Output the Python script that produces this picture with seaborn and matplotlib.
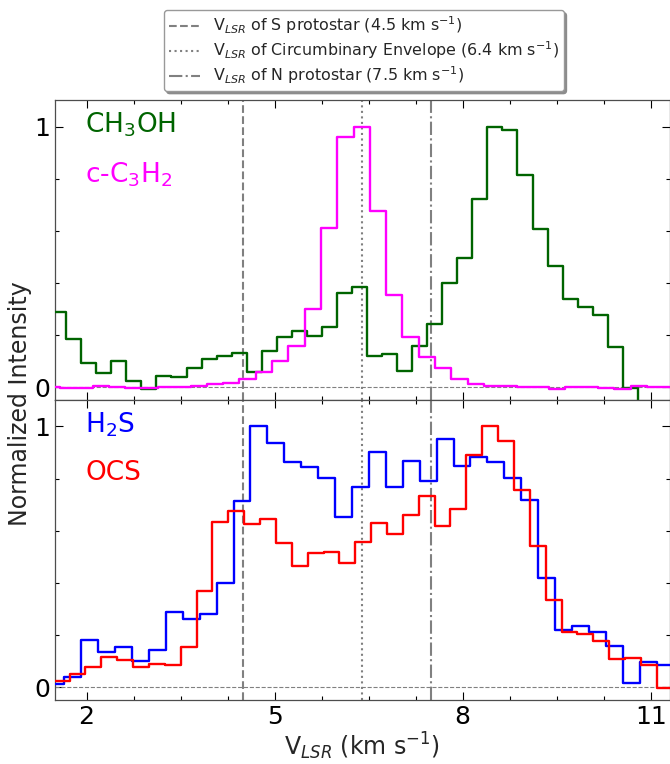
import numpy as np
import pandas as pd
import matplotlib
matplotlib.use("Agg")
import matplotlib.pyplot as plt
import seaborn as sns
from matplotlib.ticker import MultipleLocator, FixedLocator

sns.set_style("ticks")
plt.rcParams['font.family'] = ['DejaVu Sans']
plt.rcParams['mathtext.fontset'] = 'dejavusans'

# ---------------- data (channel centre velocities, km/s; normalized intensities) -------------
ch3oh_v = [1.314, 1.554, 1.794, 2.034, 2.274, 2.514, 2.754, 2.994, 3.234, 3.474, 3.714, 3.954,
           4.194, 4.434, 4.674, 4.914, 5.154, 5.394, 5.634, 5.874, 6.114, 6.354, 6.594, 6.834,
           7.074, 7.314, 7.554, 7.794, 8.034, 8.274, 8.514, 8.754, 8.994, 9.234, 9.474, 9.714,
           9.954, 10.194, 10.434, 10.674, 10.914, 11.154, 11.394]
ch3oh_i = [0.29, 0.29, 0.184, 0.092, 0.054, 0.102, 0.026, -0.008, 0.045, 0.038, 0.075, 0.109,
           0.121, 0.130, 0.058, 0.141, 0.194, 0.216, 0.198, 0.230, 0.361, 0.384, 0.120, 0.127,
           0.064, 0.160, 0.244, 0.399, 0.495, 0.721, 1.0, 0.987, 0.813, 0.606, 0.464, 0.338,
           0.308, 0.277, 0.153, -0.004, -0.15, -0.15, -0.15]

c3h2_v = [1.449, 1.709, 1.969, 2.229, 2.489, 2.749, 3.009, 3.269, 3.529, 3.789, 4.049, 4.309,
          4.569, 4.829, 5.089, 5.349, 5.609, 5.869, 6.129, 6.389, 6.649, 6.909, 7.169, 7.429,
          7.689, 7.949, 8.209, 8.469, 8.729, 8.989, 9.249, 9.509, 9.769, 10.029, 10.289, 10.549,
          10.809, 11.069, 11.329]
c3h2_i = [0.0, -0.002, -0.002, 0.006, 0.0, -0.001, -0.004, 0.0, 0.002, 0.006, 0.012, 0.017,
          0.031, 0.060, 0.102, 0.160, 0.299, 0.610, 0.959, 1.0, 0.678, 0.353, 0.192, 0.115,
          0.073, 0.032, 0.012, 0.005, 0.005, 0.003, 0.0, -0.005, 0.0, 0.0, -0.004, -0.005,
          0.005, 0.0, 0.0]

h2s_v = [1.239, 1.509, 1.779, 2.049, 2.319, 2.589, 2.859, 3.129, 3.399, 3.669, 3.939, 4.209,
         4.479, 4.749, 5.019, 5.289, 5.559, 5.829, 6.099, 6.369, 6.639, 6.909, 7.179, 7.449,
         7.719, 7.989, 8.259, 8.529, 8.799, 9.069, 9.339, 9.609, 9.879, 10.149, 10.419, 10.689,
         10.959, 11.229, 11.499]
h2s_i = [0.013, 0.013, 0.040, 0.181, 0.135, 0.155, 0.100, 0.142, 0.290, 0.260, 0.282, 0.401,
         0.715, 1.0, 0.937, 0.863, 0.844, 0.803, 0.651, 0.769, 0.901, 0.769, 0.869, 0.790,
         0.950, 0.850, 0.882, 0.865, 0.803, 0.719, 0.417, 0.219, 0.236, 0.213, 0.160, 0.016,
         0.097, 0.086, 0.086]

ocs_v = [1.347, 1.600, 1.854, 2.107, 2.360, 2.614, 2.867, 3.120, 3.373, 3.627, 3.880, 4.133,
         4.386, 4.640, 4.893, 5.146, 5.399, 5.653, 5.906, 6.159, 6.412, 6.666, 6.919, 7.172,
         7.425, 7.678, 7.932, 8.185, 8.438, 8.691, 8.944, 9.198, 9.451, 9.704, 9.957, 10.210,
         10.464, 10.717, 10.970, 11.223, 11.476]
ocs_i = [0.023, 0.023, 0.051, 0.077, 0.117, 0.103, 0.079, 0.091, 0.087, 0.156, 0.369, 0.632,
         0.677, 0.626, 0.645, 0.555, 0.465, 0.514, 0.518, 0.476, 0.558, 0.629, 0.587, 0.662,
         0.733, 0.619, 0.682, 0.892, 1.0, 0.944, 0.758, 0.540, 0.333, 0.212, 0.203, 0.179,
         0.107, 0.111, 0.086, -0.003, -0.003]

vlsr_values = [4.5, 6.4, 7.5]
vlsr_labels = [r"V$_{LSR}$ of S protostar (4.5 km s$^{-1}$)",
               r"V$_{LSR}$ of Circumbinary Envelope (6.4 km s$^{-1}$)",
               r"V$_{LSR}$ of N protostar (7.5 km s$^{-1}$)"]
vlsr_styles = ['--', ':', '-.']

top_species = [("CH$_3$OH", ch3oh_v, ch3oh_i, 'darkgreen'),
               ("c-C$_3$H$_2$", c3h2_v, c3h2_i, 'magenta')]
bot_species = [("H$_2$S", h2s_v, h2s_i, 'blue'),
               ("OCS", ocs_v, ocs_i, 'red')]

# ---------------- figure ----------------
fig, (ax1, ax2) = plt.subplots(2, 1, figsize=(6.7, 7.64), dpi=100, sharex=True)
fig.subplots_adjust(left=0.0825, right=0.9993, top=0.8685, bottom=0.0834, hspace=0)

for ax, species in ((ax1, top_species), (ax2, bot_species)):
    for v, ls, lab in zip(vlsr_values, vlsr_styles, vlsr_labels):
        ax.axvline(v, color='gray', ls=ls, lw=1.5, zorder=1, label=lab)
    ax.axhline(0, color='gray', ls='--', lw=0.8, zorder=1)
    for name, vv, ii, col in species:
        df = pd.DataFrame({'v': vv, 'I': ii})
        sns.lineplot(data=df, x='v', y='I', ax=ax, color=col, lw=1.7,
                     drawstyle='steps-mid', estimator=None, sort=False,
                     legend=False, zorder=3)
    ax.set_xlabel('')
    ax.set_ylabel('')
    ax.set_xlim(1.5, 11.3)
    ax.set_ylim(-0.05, 1.1)
    ax.xaxis.set_major_locator(FixedLocator([2, 5, 8, 11]))
    ax.xaxis.set_minor_locator(MultipleLocator(0.75, offset=0.5))
    ax.yaxis.set_major_locator(FixedLocator([0, 1]))
    ax.yaxis.set_minor_locator(MultipleLocator(0.2))
    ax.tick_params(which='both', direction='in', top=True, right=True, width=0.8,
                   colors='black')
    ax.tick_params(which='major', length=5.5, labelsize=18)
    ax.tick_params(which='minor', length=2.75)
    for s in ax.spines.values():
        s.set_color('0.3')
        s.set_linewidth(0.9)

# species labels
ax1.text(0.049, 0.893, top_species[0][0], color=top_species[0][3], fontsize=19,
         transform=ax1.transAxes, va='baseline')
ax1.text(0.049, 0.728, top_species[1][0], color=top_species[1][3], fontsize=19,
         transform=ax1.transAxes, va='baseline')
ax2.text(0.049, 0.894, bot_species[0][0], color=bot_species[0][3], fontsize=19,
         transform=ax2.transAxes, va='baseline')
ax2.text(0.049, 0.736, bot_species[1][0], color=bot_species[1][3], fontsize=19,
         transform=ax2.transAxes, va='baseline')

ax1.tick_params(labelbottom=False)
ax2.set_xlabel(r"V$_{LSR}$ (km s$^{-1}$)", fontsize=17, labelpad=1)
fig.text(0.03, 0.472, "Normalized Intensity", rotation=90, va='center', ha='center',
         fontsize=17)

handles, labels = ax1.get_legend_handles_labels()
leg = fig.legend(handles, labels, loc='upper center', bbox_to_anchor=(0.543, 0.987),
                 fontsize=11.4, shadow={'color': '0.55', 'alpha': 1.0}, fancybox=True,
                 borderaxespad=0, framealpha=1, edgecolor='0.6',
                 labelspacing=0.2, borderpad=0.3, handlelength=2.0)

fig.savefig("out.png", dpi=100)
